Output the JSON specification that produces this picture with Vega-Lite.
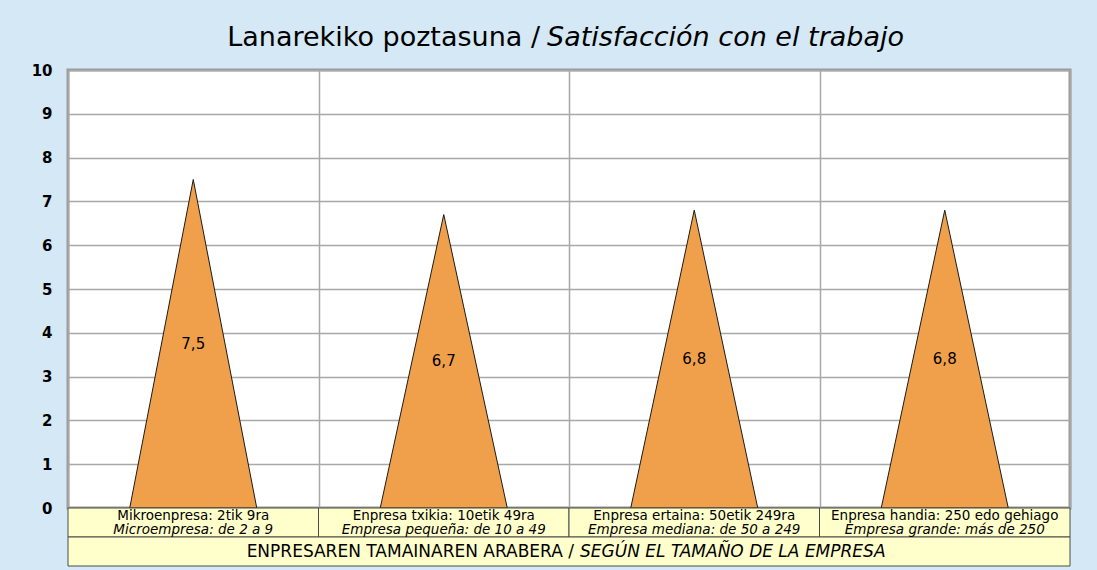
{
  "$schema": "https://vega.github.io/schema/vega-lite/v6.json",
  "background": "#D5E8F5",
  "padding": {"left": 16, "top": 6, "right": 29, "bottom": 4},
  "spacing": 0,
  "bounds": "flush",
  "config": {
    "font": "DejaVu Sans",
    "text": {"font": "DejaVu Sans"},
    "concat": {"spacing": 0}
  },
  "datasets": {
    "cats": [
      {"i": 0, "eu": "Mikroenpresa: 2tik 9ra", "es": "Microempresa: de 2 a 9", "v": 7.5},
      {"i": 1, "eu": "Enpresa txikia: 10etik 49ra", "es": "Empresa pequeña: de 10 a 49", "v": 6.7},
      {"i": 2, "eu": "Enpresa ertaina: 50etik 249ra", "es": "Empresa mediana: de 50 a 249", "v": 6.8},
      {"i": 3, "eu": "Enpresa handia: 250 edo gehiago", "es": "Empresa grande: más de 250", "v": 6.8}
    ]
  },
  "vconcat": [
    {
      "width": 1002,
      "height": 64,
      "view": {"stroke": null},
      "data": {"values": [{"t1": "Lanarekiko poztasuna /", "t2": "Satisfacción con el trabajo"}]},
      "layer": [
        {
          "mark": {"type": "text", "align": "right", "baseline": "middle", "fontSize": 27, "color": "black", "dx": -29},
          "encoding": {
            "x": {"datum": 2, "type": "quantitative", "scale": {"domain": [0, 4], "nice": false}, "axis": null},
            "text": {"field": "t1"}
          }
        },
        {
          "mark": {"type": "text", "align": "left", "baseline": "middle", "fontSize": 27, "fontStyle": "italic", "color": "black", "dx": -22},
          "encoding": {
            "x": {"datum": 2, "type": "quantitative", "scale": {"domain": [0, 4], "nice": false}, "axis": null},
            "text": {"field": "t2"}
          }
        }
      ]
    },
    {
      "width": 1002,
      "height": 438,
      "view": {"fill": "white", "stroke": "#9A9A9A", "strokeWidth": 3},
      "data": {"name": "cats"},
      "layer": [
        {
          "transform": [
            {"calculate": "datum.i + 0.5 - 0.2535", "as": "xl"},
            {"calculate": "datum.i + 0.5", "as": "xm"},
            {"calculate": "datum.i + 0.5 + 0.2535", "as": "xr"},
            {"fold": ["xl", "xm", "xr"], "as": ["pos", "px"]},
            {"calculate": "datum.pos == 'xm' ? datum.v : 0", "as": "py"}
          ],
          "mark": {"type": "area", "orient": "vertical", "fill": "#F0A04B", "fillOpacity": 1, "stroke": "#1a1a1a", "strokeWidth": 1, "strokeJoin": "miter"},
          "encoding": {
            "x": {
              "field": "px", "type": "quantitative",
              "scale": {"domain": [0, 4], "nice": false, "zero": false},
              "axis": {"values": [0, 1, 2, 3, 4], "labels": false, "ticks": false, "domain": false, "grid": true, "gridColor": "#A8A8A8", "gridWidth": 1.5, "title": null}
            },
            "y": {
              "field": "py", "type": "quantitative", "stack": null,
              "scale": {"domain": [0, 10], "nice": false},
              "axis": {"values": [0, 1, 2, 3, 4, 5, 6, 7, 8, 9, 10], "ticks": false, "domain": false, "grid": true, "gridColor": "#A8A8A8", "gridWidth": 1.5, "labelFont": "DejaVu Sans", "labelFontSize": 15, "labelFontWeight": "bold", "labelColor": "black", "labelPadding": 16, "minExtent": 50, "maxExtent": 50, "title": null}
            },
            "detail": {"field": "i", "type": "nominal"}
          }
        },
        {
          "transform": [
            {"calculate": "datum.i + 0.5", "as": "cx"},
            {"calculate": "datum.v / 2", "as": "cy"},
            {"calculate": "replace(format(datum.v, '.1f'), '.', ',')", "as": "lab"}
          ],
          "mark": {"type": "text", "fontSize": 15, "color": "black", "baseline": "middle"},
          "encoding": {
            "x": {"field": "cx", "type": "quantitative"},
            "y": {"field": "cy", "type": "quantitative"},
            "text": {"field": "lab"}
          }
        }
      ]
    },
    {
      "width": 1002,
      "height": 58,
      "view": {"stroke": null},
      "layer": [
        {
          "data": {"name": "cats"},
          "transform": [
            {"calculate": "datum.i + 1", "as": "i2"},
            {"calculate": "'c'", "as": "row"}
          ],
          "mark": {"type": "rect", "fill": "#FFFFCC", "stroke": "#4A4A4A", "strokeWidth": 1},
          "encoding": {
            "x": {"field": "i", "type": "quantitative", "scale": {"domain": [0, 4], "nice": false}, "axis": null},
            "x2": {"field": "i2"},
            "y": {"field": "row", "type": "nominal", "scale": {"domain": ["c", "t"], "paddingInner": 0, "paddingOuter": 0}, "axis": null}
          }
        },
        {
          "data": {"values": [{"row": "t"}]},
          "mark": {"type": "rect", "fill": "#FFFFCC", "stroke": "#4A4A4A", "strokeWidth": 1},
          "encoding": {
            "x": {"datum": 0, "type": "quantitative"},
            "x2": {"datum": 4},
            "y": {"field": "row", "type": "nominal"}
          }
        },
        {
          "data": {"name": "cats"},
          "transform": [
            {"calculate": "datum.i + 0.5", "as": "cx"},
            {"calculate": "'c'", "as": "row"}
          ],
          "mark": {"type": "text", "fontSize": 13.5, "color": "black", "baseline": "middle", "dy": -7},
          "encoding": {
            "x": {"field": "cx", "type": "quantitative"},
            "y": {"field": "row", "type": "nominal"},
            "text": {"field": "eu"}
          }
        },
        {
          "data": {"name": "cats"},
          "transform": [
            {"calculate": "datum.i + 0.5", "as": "cx"},
            {"calculate": "'c'", "as": "row"}
          ],
          "mark": {"type": "text", "fontSize": 13.5, "fontStyle": "italic", "color": "black", "baseline": "middle", "dy": 7},
          "encoding": {
            "x": {"field": "cx", "type": "quantitative"},
            "y": {"field": "row", "type": "nominal"},
            "text": {"field": "es"}
          }
        },
        {
          "data": {"values": [{"row": "t", "t1": "ENPRESAREN TAMAINAREN ARABERA /", "t2": "SEGÚN EL TAMAÑO DE LA EMPRESA"}]},
          "mark": {"type": "text", "fontSize": 17, "color": "black", "baseline": "middle", "align": "right", "dx": 5},
          "encoding": {
            "x": {"datum": 2, "type": "quantitative"},
            "y": {"field": "row", "type": "nominal"},
            "text": {"field": "t1"}
          }
        },
        {
          "data": {"values": [{"row": "t", "t1": "ENPRESAREN TAMAINAREN ARABERA /", "t2": "SEGÚN EL TAMAÑO DE LA EMPRESA"}]},
          "mark": {"type": "text", "fontSize": 17, "fontStyle": "italic", "color": "black", "baseline": "middle", "align": "left", "dx": 11},
          "encoding": {
            "x": {"datum": 2, "type": "quantitative"},
            "y": {"field": "row", "type": "nominal"},
            "text": {"field": "t2"}
          }
        }
      ]
    }
  ]
}
